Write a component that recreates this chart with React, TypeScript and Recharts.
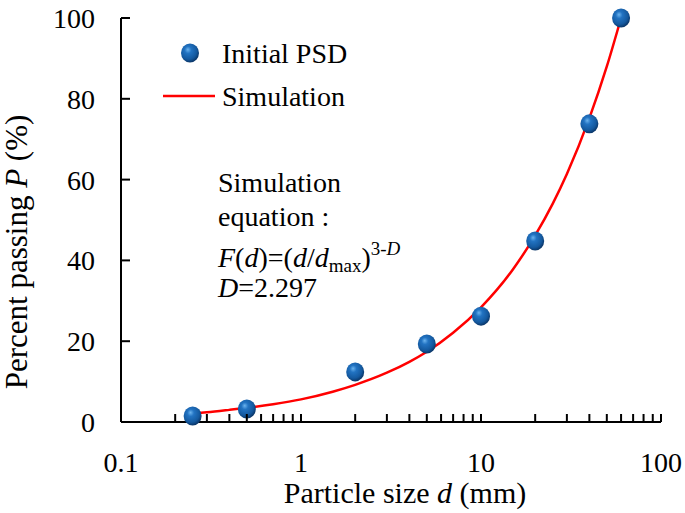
import React from "react";
import {
  ComposedChart,
  Line,
  Scatter,
  XAxis,
  YAxis,
  Customized,
} from "recharts";

// Measured data: initial particle size distribution
const psdSize = [0.25, 0.5, 2, 5, 10, 20, 40, 60];
const psdPassing = [1.5, 3.2, 12.4, 19.3, 26.2, 44.8, 73.8, 100];

// Simulation curve
const simSize = [0.25, 0.3, 0.4, 0.5, 0.7, 1, 1.5, 2, 3, 4, 5, 7, 10, 15, 20, 25, 30, 40, 50, 60];
const simPassing = [2.1, 2.4, 3.0, 3.5, 4.4, 5.6, 7.5, 9.2, 12.2, 14.9, 17.4, 22.1, 28.4, 37.7, 46.2, 54.0, 61.4, 75.2, 88.0, 100];

// Axis ticks
const xTicks = [
  0.1, 0.2, 0.3, 0.4, 0.5, 0.6, 0.7, 0.8, 0.9,
  1, 2, 3, 4, 5, 6, 7, 8, 9,
  10, 20, 30, 40, 50, 60, 70, 80, 90, 100,
];
const xLabeled = [0.1, 1, 10, 100];
const yTicks = [0, 20, 40, 60, 80, 100];

const psdData = psdSize.map((d, i) => ({ d, p: psdPassing[i] }));
const simData = simSize.map((d, i) => ({ d, p: simPassing[i] }));

const FONT = '"Liberation Serif", "Times New Roman", "DejaVu Serif", serif';
const fs = (size: number, italic = false): React.CSSProperties => ({
  fontFamily: FONT,
  fontSize: size,
  fontStyle: italic ? "italic" : "normal",
});
const W = 685;
const H = 513;

const XTick = (props: any) => {
  const { x, y, payload } = props;
  const v = payload.value;
  const labeled = xLabeled.some((t) => Math.abs(t - v) < 1e-9);
  return (
    <g>
      <line x1={x} x2={x} y1={y} y2={y - 8} stroke="#000" strokeWidth={2} />
      {labeled && (
        <text x={x} y={y + 50} textAnchor="middle" style={fs(28)} fill="#000">
          {v}
        </text>
      )}
    </g>
  );
};

const YTick = (props: any) => {
  const { x, y, payload } = props;
  return (
    <g>
      <line x1={x} x2={x + 9} y1={y} y2={y} stroke="#000" strokeWidth={2} />
      <text x={x - 26} y={y + 10} textAnchor="end" style={fs(28)} fill="#000">
        {payload.value}
      </text>
    </g>
  );
};

const Sphere = (props: any) => {
  const { cx, cy } = props;
  if (cx == null || cy == null) return null;
  return <ellipse cx={cx} cy={cy} rx={9} ry={9.5} fill="url(#sphereGrad)" />;
};

const Overlay = () => (
  <g fill="#000" style={{ fontFamily: FONT }}>
    {/* legend */}
    <ellipse cx={190} cy={53} rx={9} ry={9.5} fill="url(#sphereGrad)" />
    <text x={222} y={63} style={fs(28)}>Initial PSD</text>
    <line x1={163} x2={215} y1={96} y2={96} stroke="#ff0000" strokeWidth={2.5} />
    <text x={222} y={106} style={fs(28)}>Simulation</text>
    {/* annotation */}
    <text x={218} y={192} style={fs(28)}>Simulation</text>
    <text x={218} y={226} style={fs(28)}>equation :</text>
    <text x={218} y={267} style={fs(28)}>
      <tspan style={fs(28, true)}>F</tspan>
      <tspan>(</tspan>
      <tspan style={fs(28, true)}>d</tspan>
      <tspan>)=(</tspan>
      <tspan style={fs(28, true)}>d</tspan>
      <tspan>/</tspan>
      <tspan style={fs(28, true)}>d</tspan>
      <tspan style={fs(19)} dy={5}>max</tspan>
      <tspan dy={-5}>)</tspan>
      <tspan style={fs(19)} dy={-12}>3-</tspan>
      <tspan style={fs(19, true)}>D</tspan>
    </text>
    <text x={218} y={297} style={fs(28)}>
      <tspan style={fs(28, true)}>D</tspan>
      <tspan>=2.297</tspan>
    </text>
    {/* axis titles */}
    <text x={405} y={503} textAnchor="middle" style={fs(30)}>
      Particle size <tspan style={fs(30, true)}>d</tspan> (mm)
    </text>
    <text
      x={0}
      y={0}
      transform="translate(27 252) rotate(-90)"
      textAnchor="middle"
      style={fs(31)}
    >
      Percent passing <tspan style={fs(31, true)}>P</tspan> (%)
    </text>
  </g>
);

export default function App() {
  return (
    <div style={{ position: "absolute", left: 0, top: 0, width: W, height: H, background: "#fff", fontFamily: FONT }}>
      <svg width={0} height={0} style={{ position: "absolute" }}>
        <defs>
          <radialGradient id="sphereGrad" cx="42%" cy="38%" r="62%" fx="38%" fy="32%">
            <stop offset="0%" stopColor="#6bb3ee" />
            <stop offset="30%" stopColor="#2273c2" />
            <stop offset="75%" stopColor="#14599f" />
            <stop offset="100%" stopColor="#0a3668" />
          </radialGradient>
        </defs>
      </svg>
      <ComposedChart
        width={W}
        height={H}
        margin={{ top: 18, right: 24, bottom: 0, left: 0 }}
        style={{ fontFamily: FONT }}
      >
        <XAxis
          dataKey="d"
          type="number"
          scale="log"
          domain={[0.1, 100]}
          ticks={xTicks}
          interval={0}
          allowDataOverflow
          height={91}
          tickSize={0}
          tickMargin={0}
          tickLine={false}
          tick={<XTick />}
          axisLine={{ stroke: "#000", strokeWidth: 2 }}
        />
        <XAxis
          xAxisId="top"
          orientation="top"
          dataKey="d"
          type="number"
          scale="log"
          domain={[0.1, 100]}
          allowDataOverflow
          height={0}
          tick={false}
          tickLine={false}
          axisLine={{ stroke: "#000", strokeWidth: 2 }}
        />
        <YAxis
          dataKey="p"
          type="number"
          domain={[0, 100]}
          ticks={yTicks}
          interval={0}
          width={121}
          tickSize={0}
          tickMargin={0}
          tickLine={false}
          tick={<YTick />}
          axisLine={{ stroke: "#000", strokeWidth: 2 }}
        />
        <YAxis
          yAxisId="right"
          orientation="right"
          type="number"
          domain={[0, 100]}
          width={0}
          tick={false}
          tickLine={false}
          axisLine={{ stroke: "#000", strokeWidth: 2 }}
        />
        <Line
          data={simData}
          dataKey="p"
          type="monotone"
          stroke="#ff0000"
          strokeWidth={2.5}
          dot={false}
          activeDot={false}
          isAnimationActive={false}
        />
        <Scatter
          data={psdData}
          dataKey="p"
          shape={<Sphere />}
          isAnimationActive={false}
        />
        <Customized component={Overlay} />
      </ComposedChart>
    </div>
  );
}
